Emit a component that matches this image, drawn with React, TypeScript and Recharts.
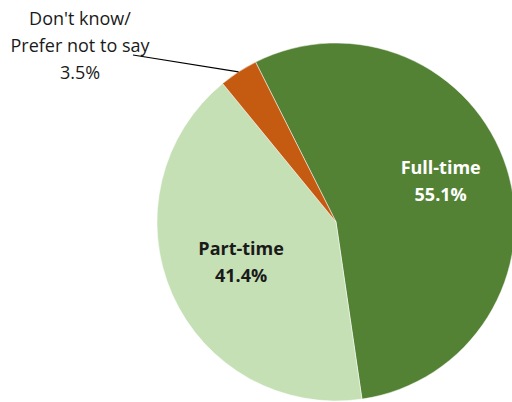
import { PieChart, Pie, Cell } from "recharts";

const categories = ["Full-time", "Part-time", "Don't know/\nPrefer not to say"];
const shares = [55.1, 41.4, 3.5];
const colors = ["#548235", "#C5E0B4", "#C55A11"];

const data = categories.map((name, i) => ({ name, value: shares[i] }));

const RAD = Math.PI / 180;
const font = "'Open Sans', 'Noto Sans', sans-serif";

// label placement tweaks for the inner labels
const angleNudge = [4.3, -1];
const radiusFactor = [0.63, 0.575];

function renderLabel(props: any) {
  const { cx, cy, midAngle, outerRadius, index, value } = props;
  const lines = categories[index].split("\n").concat([`${value.toFixed(1)}%`]);

  if (index === 2) {
    // outside label with a leader line
    const sx = cx + outerRadius * Math.cos(-midAngle * RAD);
    const sy = cy + outerRadius * Math.sin(-midAngle * RAD);
    return (
      <g>
        <line x1={sx} y1={sy} x2={133} y2={55} stroke="#000" strokeWidth={1.2} />
        {lines.map((l, i) => (
          <text
            key={i}
            x={80}
            y={18 + i * 27}
            textAnchor="middle"
            dominantBaseline="central"
            fontFamily={font}
            fontSize={18}
            fill="#1a1a1a"
          >
            {l}
          </text>
        ))}
      </g>
    );
  }

  const r = outerRadius * radiusFactor[index];
  const a = (midAngle + angleNudge[index]) * RAD;
  const x = cx + r * Math.cos(-a);
  const y = cy + r * Math.sin(-a);
  return (
    <g>
      {lines.map((l, i) => (
        <text
          key={i}
          x={x}
          y={y + (i - 0.5) * 27}
          textAnchor="middle"
          dominantBaseline="central"
          fontFamily={font}
          fontSize={18}
          fontWeight="bold"
          fill={index === 0 ? "#ffffff" : "#1a1a1a"}
        >
          {l}
        </text>
      ))}
    </g>
  );
}

export default function App() {
  return (
    <div style={{ position: "absolute", left: 0, top: 0, width: 512, height: 402, background: "#fff" }}>
      <PieChart width={512} height={402} margin={{ top: 0, right: 0, bottom: 0, left: 0 }}>
        <Pie
          data={data}
          dataKey="value"
          nameKey="name"
          cx={336}
          cy={222}
          outerRadius={179}
          startAngle={116.7}
          endAngle={-243.3}
          stroke="#ffffff"
          strokeWidth={0.5}
          label={renderLabel}
          labelLine={false}
          isAnimationActive={false}
        >
          {data.map((_, idx) => (
            <Cell key={`cell-${idx}`} fill={colors[idx]} />
          ))}
        </Pie>
      </PieChart>
    </div>
  );
}
